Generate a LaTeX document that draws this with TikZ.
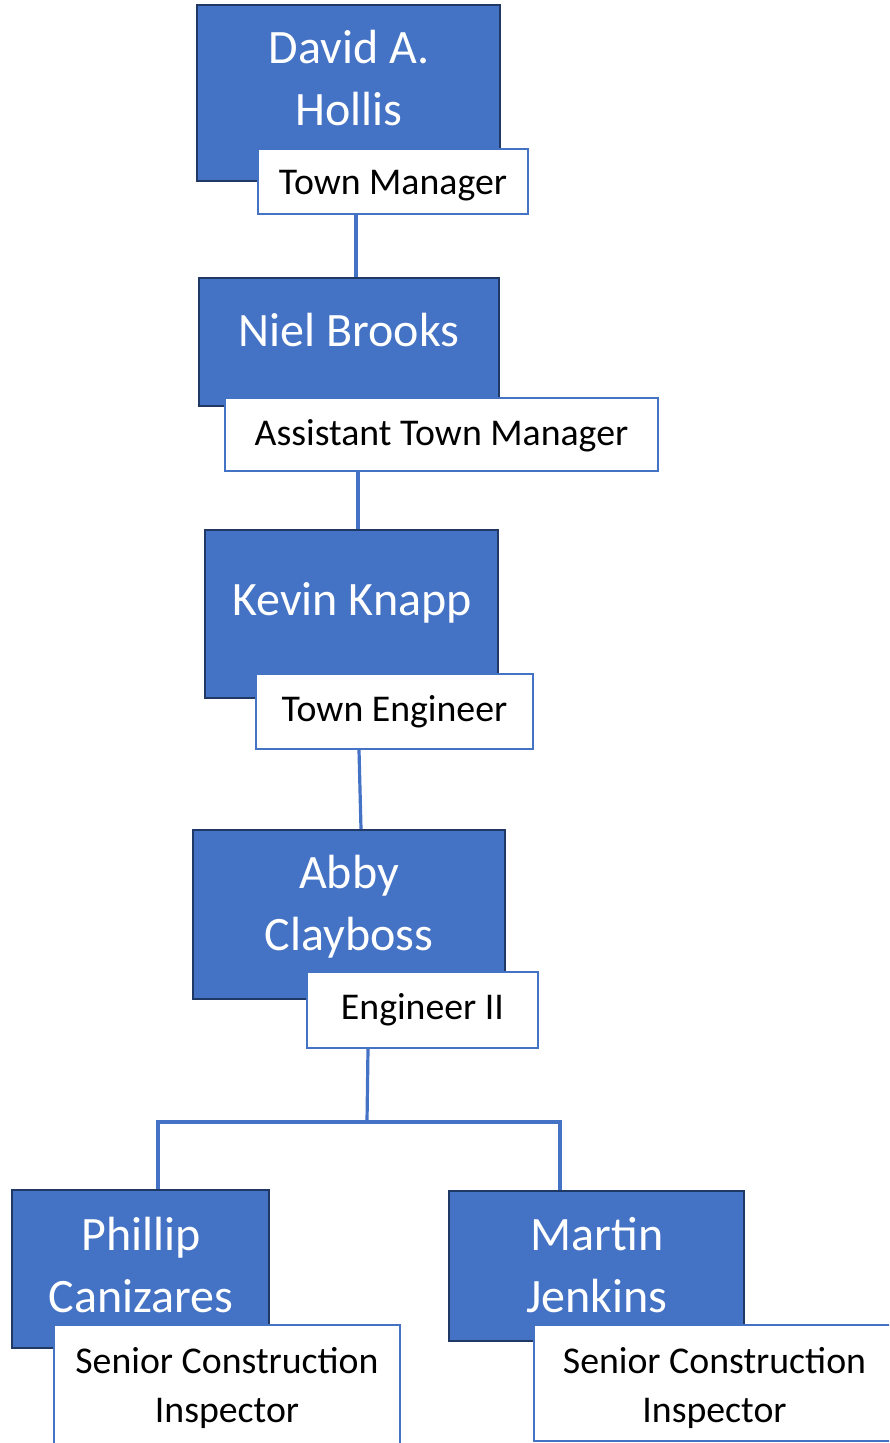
\documentclass[tikz,border=0pt]{standalone}
\usepackage{fontspec}
\setmainfont{Carlito}
\definecolor{accent}{HTML}{4472C4}
\definecolor{navy}{HTML}{203864}
\tikzset{
  bluebox/.style={rectangle, fill=accent, draw=navy, line width=2pt, inner sep=0pt},
  nametext/.style={text=white, align=center, font=\fontsize{48}{62}\selectfont, inner sep=0pt},
  labelbox/.style={rectangle, fill=white, draw=accent, line width=1.6pt, inner sep=0pt},
  labeltext/.style={align=center, inner sep=0pt, font=\fontsize{37.8}{49}\selectfont},
  conn/.style={draw=accent, line width=3.2pt}
}
\begin{document}
\begin{tikzpicture}[x=1pt,y=-1pt]
\useasboundingbox (0,0) rectangle (889,1443);
\clip (0,0) rectangle (889,1443);
% blue boxes
\node[bluebox, minimum width=303pt, minimum height=176pt] (b1) at (348.5,93) {};
\node[bluebox, minimum width=300pt, minimum height=128pt] (b2) at (349,342) {};
\node[bluebox, minimum width=293pt, minimum height=168pt] (b3) at (351.5,614) {};
\node[bluebox, minimum width=312pt, minimum height=169pt] (b4) at (349,914.5) {};
\node[bluebox, minimum width=257pt, minimum height=158pt] (b5) at (140.5,1269) {};
\node[bluebox, minimum width=295pt, minimum height=150pt] (b6) at (596.5,1266) {};
% names
\node[nametext] (t1) at (349,78) {David A.\\Hollis};
\node[nametext] (t2) at (349,330) {Niel Brooks};
\node[nametext] (t3) at (352,603) {Kevin Knapp};
\node[nametext] (t4) at (349,907) {Abby\\Clayboss};
\node[nametext] (t5) at (141,1264.5) {Phillip\\Canizares};
\node[nametext] (t6) at (597,1265) {Martin\\Jenkins};
% title labels
\node[labelbox, minimum width=270pt, minimum height=65pt] (l1) at (393,181.5) {};
\node[labelbox, minimum width=433pt, minimum height=73pt] (l2) at (441.5,434.5) {};
\node[labelbox, minimum width=277pt, minimum height=75pt] (l3) at (394.5,711.5) {};
\node[labelbox, minimum width=231pt, minimum height=76pt] (l4) at (422.5,1010) {};
\node[labelbox, minimum width=346pt, minimum height=122pt] (l5) at (227,1386) {};
\node[labelbox, minimum width=361pt, minimum height=116pt] (l6) at (714.5,1383) {};
\node[labeltext] (s1) at (393,186) {Town Manager};
\node[labeltext] (s2) at (441.5,436) {Assistant Town Manager};
\node[labeltext] (s3) at (394.5,712) {Town Engineer};
\node[labeltext] (s4) at (422.5,1010) {Engineer II};
\node[labeltext] (s5) at (227,1387.5) {Senior Construction\\Inspector};
\node[labeltext] (s6) at (714.5,1387.5) {Senior Construction\\Inspector};
% connectors
\draw[conn] ([xshift=7pt]b2.north |- l1.south) -- ([xshift=7pt]b2.north);
\draw[conn] ([xshift=6.5pt]b3.north |- l2.south) -- ([xshift=6.5pt]b3.north);
\draw[conn] ([xshift=-35.5pt]l3.south) -- ([xshift=12pt]b4.north);
\coordinate (j) at (367,1122);
\draw[conn] ([xshift=-54.5pt]l4.south) -- (j);
\draw[conn] ([xshift=17.5pt]b5.north) |- (j) -| ([xshift=-36.5pt]b6.north);
\end{tikzpicture}
\end{document}
